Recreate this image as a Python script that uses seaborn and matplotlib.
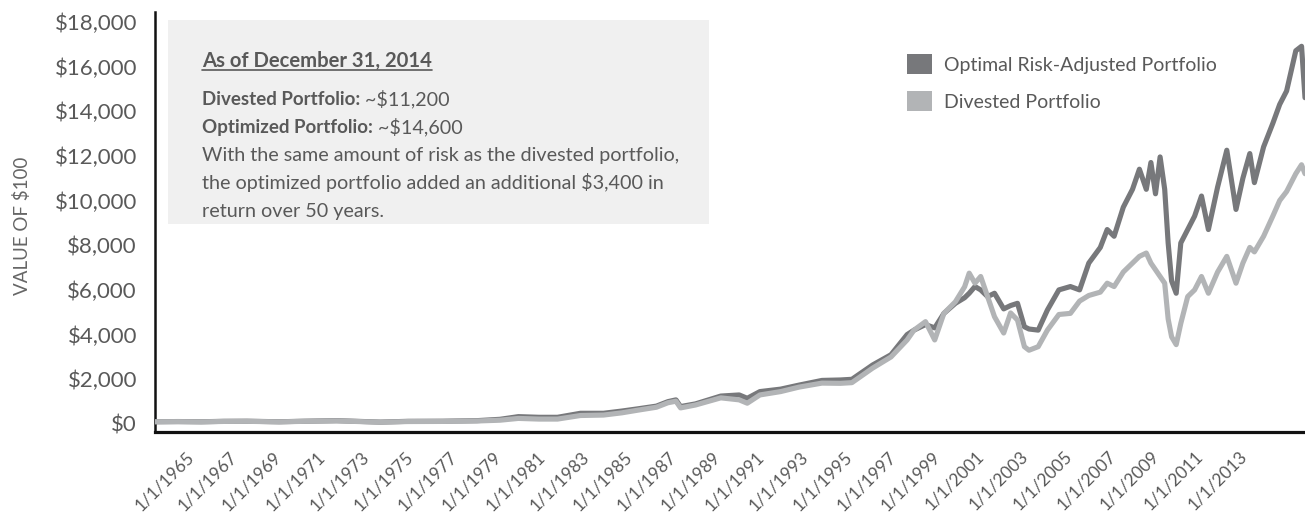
import matplotlib
matplotlib.use("Agg")
import matplotlib.pyplot as plt
from matplotlib.patches import Patch, Rectangle
from matplotlib.lines import Line2D
from matplotlib.ticker import FuncFormatter
from matplotlib.transforms import IdentityTransform
import pandas as pd
import seaborn as sns

# Growth of $100 invested at the start of 1965 (fractional year, portfolio value in $)
years = [
    1965.0, 1966.0, 1967.0, 1968.0, 1969.0, 1970.4, 1971.5, 1972.9, 1974.8, 1976.0,
    1977.5, 1979.0, 1980.0, 1980.8, 1981.7, 1982.5, 1983.5, 1984.5, 1985.3, 1986.0,
    1986.8, 1987.3, 1987.65, 1987.85, 1988.5, 1989.6, 1990.4, 1990.75, 1991.3, 1992.2,
    1993.0, 1994.0, 1994.8, 1995.3, 1996.2, 1997.0, 1997.7, 1998.0, 1998.5, 1998.9,
    1999.3, 1999.8, 2000.2, 2000.4, 2000.65, 2000.9, 2001.2, 2001.5, 2001.9, 2002.2,
    2002.5, 2002.8, 2003.0, 2003.4, 2003.8, 2004.3, 2004.8, 2005.2, 2005.6, 2006.1,
    2006.4, 2006.7, 2007.1, 2007.5, 2007.8, 2008.1, 2008.3, 2008.5, 2008.7, 2008.9,
    2009.05, 2009.2, 2009.4, 2009.6, 2009.9, 2010.2, 2010.5, 2010.8, 2011.2, 2011.6,
    2012.0, 2012.3, 2012.6, 2012.8, 2013.2, 2013.6, 2013.9, 2014.2, 2014.6, 2014.85,
    2015.0,
]

optimal = [
    100, 110, 100, 120, 125, 100, 125, 150, 85, 120,
    125, 150, 210, 330, 300, 300, 480, 480, 580, 680,
    800, 1000, 1080, 780, 900, 1250, 1300, 1150, 1450, 1560,
    1740, 1950, 1970, 2000, 2640, 3100, 4000, 4200, 4450, 4300,
    4950, 5400, 5650, 5850, 6150, 6000, 5700, 5850, 5150, 5300,
    5400, 4350, 4250, 4200, 5100, 6000, 6150, 6000, 7200, 7900,
    8700, 8400, 9700, 10500, 11400, 10500, 11700, 10300, 11950, 10500,
    8100, 6400, 5850, 8100, 8700, 9300, 10200, 8700, 10600, 12250,
    9600, 11000, 12100, 10800, 12400, 13450, 14300, 14900, 16700, 16900,
    14600,
]

divested = [
    100, 105, 95, 115, 120, 95, 120, 140, 80, 110,
    115, 135, 170, 250, 220, 220, 380, 400, 500, 620,
    750, 950, 1020, 720, 850, 1170, 1080, 930, 1300, 1450,
    1650, 1830, 1820, 1850, 2500, 3000, 3760, 4200, 4580, 3760,
    4950, 5470, 6140, 6750, 6300, 6600, 5700, 4800, 4070, 4970,
    4650, 3460, 3300, 3460, 4200, 4900, 4950, 5500, 5750, 5900,
    6300, 6150, 6800, 7200, 7500, 7650, 7200, 6900, 6600, 6300,
    4700, 3900, 3550, 4500, 5700, 6000, 6600, 5850, 6800, 7500,
    6300, 7200, 7900, 7700, 8400, 9300, 10000, 10400, 11200, 11600,
    11200,
]

series_names = ["Optimal Risk-Adjusted Portfolio", "Divested Portfolio"]
series_colors = ["#77787b", "#b2b4b6"]

# Date labels along the bottom axis, one every two years
label_years = list(range(1965, 2014, 2))
label_text = [f"1/1/{y}" for y in label_years]
label_first = 1966.52   # axis position of the first label
label_step = 1.9087     # axis distance between consecutive labels

y_ticks = list(range(0, 18001, 2000))

TEXT = "#595959"

sns.set_style("white")
plt.rcParams["font.family"] = ["Lato", "DejaVu Sans"]

df = pd.concat([
    pd.DataFrame({"year": years, "value": optimal, "portfolio": series_names[0]}),
    pd.DataFrame({"year": years, "value": divested, "portfolio": series_names[1]}),
])

fig = plt.figure(figsize=(13.05, 5.13), dpi=100)
ax = fig.add_axes([155 / 1305, 81 / 513, 1150 / 1305, 420 / 513])

sns.lineplot(
    data=df, x="year", y="value", hue="portfolio", hue_order=series_names,
    palette=dict(zip(series_names, series_colors)), linewidth=3.7,
    sort=False, legend=False, ax=ax, zorder=3,
)

ax.set_xlim(1965, 2015)
ax.set_ylim(-358, 18434)
ax.set_xlabel("")
ax.set_ylabel("")

# Axes styling
for side in ("top", "right"):
    ax.spines[side].set_visible(False)
ax.spines["left"].set_linewidth(1.8)
ax.spines["bottom"].set_linewidth(2.3)
ax.spines["left"].set_color("#111111")
ax.spines["bottom"].set_color("#111111")

ax.set_yticks(y_ticks)
ax.yaxis.set_major_formatter(FuncFormatter(lambda v, _: f"${v:,.0f}"))
ax.tick_params(axis="y", direction="in", length=10.8, width=1.5, color="#111111",
               labelsize=16, labelcolor=TEXT, pad=13)

tick_pos = [label_first + label_step * i for i in range(len(label_text))]
ax.set_xticks(tick_pos)
ax.set_xticklabels(label_text, rotation=45, ha="right", va="center_baseline",
                   rotation_mode="anchor")
ax.tick_params(axis="x", length=0, labelsize=12.5, labelcolor=TEXT, pad=15)

# Summary panel
ax.add_patch(Rectangle((0.0113, 0.495), 0.4704, 0.486, transform=ax.transAxes,
                       facecolor="#f0f0f0", edgecolor="none", zorder=0))

tx = 0.0409
title = ax.text(tx, 0.869, "As of December 31, 2014", transform=ax.transAxes,
                fontsize=14.6, fontweight="bold", color=TEXT, va="baseline")

rows = [
    ("Divested Portfolio:", " ~$11,200"),
    ("Optimized Portfolio:", " ~$14,600"),
    (None, "With the same amount of risk as the divested portfolio,"),
    (None, "the optimized portfolio added an additional $3,400 in"),
    (None, "return over 50 years."),
]
row_y = [0.7786, 0.712, 0.645, 0.579, 0.512]
for (bold, plain), yy in zip(rows, row_y):
    if bold:
        t = ax.text(tx, yy, bold, transform=ax.transAxes, fontsize=13.5,
                    fontweight="bold", color=TEXT, va="baseline")
        ax.annotate(plain, xy=(1, 0), xycoords=t, va="bottom", ha="left",
                    fontsize=14.2, color=TEXT)
    else:
        ax.text(tx, yy, plain, transform=ax.transAxes, fontsize=14.2,
                color=TEXT, va="baseline")

# Legend with square swatches
handles = [Patch(facecolor=c, edgecolor="none") for c in series_colors]
ax.legend(handles, series_names, loc="upper left", bbox_to_anchor=(0.654, 0.9),
          frameon=False, fontsize=14, handlelength=1.3, handleheight=1.2,
          handletextpad=0.6, labelspacing=0.9, borderpad=0, borderaxespad=0,
          labelcolor=TEXT)

fig.text(22 / 1305, 1 - 226 / 513, "VALUE OF $100", rotation=90, ha="center",
         va="center", fontsize=13.5, color="#666666")

# Underline the panel heading
fig.canvas.draw()
bb = title.get_window_extent()
base_y = ax.transAxes.transform((tx, 0.869))[1]
fig.add_artist(Line2D([bb.x0, bb.x1], [base_y - 3, base_y - 3], transform=IdentityTransform(),
                      color=TEXT, linewidth=1.2))

fig.savefig("out.png", dpi=100)
